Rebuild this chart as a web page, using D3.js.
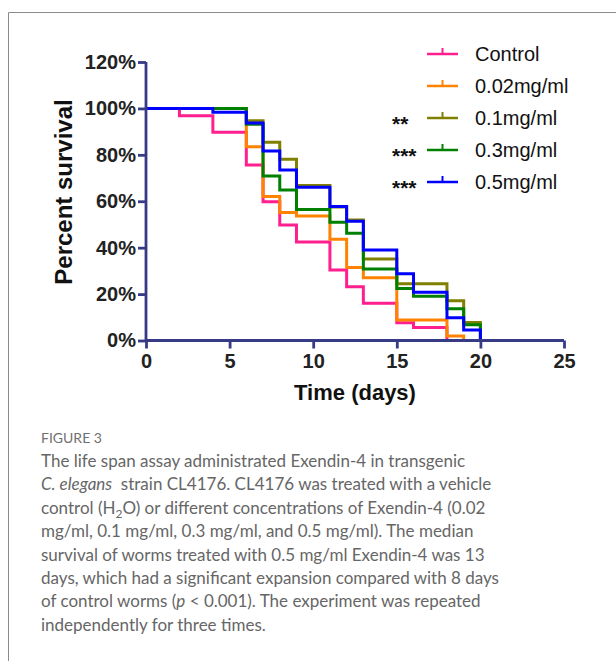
<!DOCTYPE html>
<html>
<head>
<meta charset="utf-8">
<script src="https://cdn.jsdelivr.net/npm/d3@7"></script>
<style>
  body { margin: 0; background: #fff; }
  svg { display: block; }
</style>
</head>
<body>
<script>
// event days shared by all curves, survival (%) after each drop
const days = [0, 2, 4, 6, 7, 8, 9, 11, 12, 13, 15, 16, 18, 19, 20];
const control = [100, 96.8, 89.7, 75.6, 59.8, 49.8, 42.4, 30.4, 23.2, 16.0, 7.7, 5.6, 0, null, null];
const dose002 = [100, 100, 100, 83.5, 62.0, 55.2, 53.6, 43.6, 31.5, 27.0, 8.8, 8.8, 1.9, 0, null];
const dose01 = [100, 100, 100, 94.7, 85.4, 78.1, 66.8, 57.5, 51.9, 35.1, 24.4, 24.4, 17.1, 7.8, 0];
const dose03 = [100, 100, 100, 93.2, 70.9, 64.9, 56.4, 51.0, 46.2, 30.8, 22.4, 19.1, 13.7, 6.8, 0];
const dose05 = [100, 100, 98.4, 93.7, 81.7, 73.5, 66.0, 57.7, 51.4, 39.0, 28.8, 20.8, 9.8, 4.5, 0];

const seriesNames = ["Control", "0.02mg/ml", "0.1mg/ml", "0.3mg/ml", "0.5mg/ml"];
const seriesColors = ["#ff1f8e", "#ff8300", "#808000", "#008000", "#0000ff"];
const stars = ["", "", "**", "***", "***"];
const xTicks = [0, 5, 10, 15, 20, 25];
const yTicks = [0, 20, 40, 60, 80, 100, 120];

const captionLines = [
  [{t: "The life span assay administrated Exendin-4 in transgenic"}],
  [{t: "C. elegans", i: true}, {t: "\u00a0 strain CL4176. CL4176 was treated with a vehicle"}],
  [{t: "control (H"}, {t: "2", sub: true}, {t: "O) or different concentrations of Exendin-4 (0.02"}],
  [{t: "mg/ml, 0.1 mg/ml, 0.3 mg/ml, and 0.5 mg/ml). The median"}],
  [{t: "survival of worms treated with 0.5 mg/ml Exendin-4 was 13"}],
  [{t: "days, which had a significant expansion compared with 8 days"}],
  [{t: "of control worms ("}, {t: "p", i: true}, {t: " < 0.001). The experiment was repeated"}],
  [{t: "independently for three times."}]
];

const W = 616, H = 661;
const axisColor = "#373b86";

const svg = d3.select("body").append("svg")
    .attr("width", W)
    .attr("height", H);

// frame around figure
svg.append("path")
    .attr("d", "M8.5," + H + "V12.5H" + W)
    .attr("fill", "none")
    .attr("stroke", "#8c8c8c")
    .attr("stroke-width", 1);

const x = d3.scaleLinear().domain([0, 25]).range([146, 564]);
const y = d3.scaleLinear().domain([0, 120]).range([340.5, 62]);

const series = [control, dose002, dose01, dose03, dose05].map((vals, i) => ({
    name: seriesNames[i],
    color: seriesColors[i],
    stars: stars[i],
    points: days.map((d, j) => ({day: d, v: vals[j]})).filter(p => p.v !== null)
}));

const line = d3.line()
    .x(d => x(d.day))
    .y(d => y(d.v))
    .curve(d3.curveStepAfter);

svg.append("g").selectAll("path")
    .data(series)
    .enter()
    .append("path")
    .attr("d", d => line(d.points))
    .attr("fill", "none")
    .attr("stroke", d => d.color)
    .attr("stroke-width", 3);

// axes
const xAxis = d3.axisBottom(x).tickValues(xTicks).tickSize(8).tickPadding(5);
const yAxis = d3.axisLeft(y).tickValues(yTicks).tickSize(8).tickPadding(2).tickFormat(d => d + "%");

const gx = svg.append("g")
    .attr("transform", "translate(0," + y(0) + ")")
    .call(xAxis);
const gy = svg.append("g")
    .attr("transform", "translate(" + x(0) + ",0)")
    .call(yAxis);

[gx, gy].forEach(g => {
    g.select(".domain").attr("stroke", axisColor).attr("stroke-width", 2.8);
    g.selectAll(".tick line").attr("stroke", axisColor).attr("stroke-width", 2.8);
    g.selectAll(".tick text")
        .attr("fill", "#222")
        .attr("font-family", "Liberation Sans, Arial, sans-serif")
        .attr("font-weight", "bold")
        .attr("font-size", 20);
});
gy.select(".domain").attr("d", "M0," + y(120) + "V" + (y(0) + 1));
gx.select(".domain").attr("d", "M" + x(0) + ",0H" + x(25));

svg.append("text")
    .attr("transform", "translate(72,192) rotate(-90)")
    .attr("text-anchor", "middle")
    .attr("font-family", "Liberation Sans, Arial, sans-serif")
    .attr("font-weight", "bold")
    .attr("font-size", 24)
    .attr("fill", "#111")
    .text("Percent survival");

svg.append("text")
    .attr("x", (x(0) + x(25)) / 2)
    .attr("y", 400)
    .attr("text-anchor", "middle")
    .attr("font-family", "Liberation Sans, Arial, sans-serif")
    .attr("font-weight", "bold")
    .attr("font-size", 22)
    .attr("fill", "#111")
    .text("Time (days)");

// legend
const legend = svg.append("g").selectAll("g")
    .data(series)
    .enter()
    .append("g")
    .attr("transform", (d, i) => "translate(0," + (54 + i * 32) + ")");

legend.append("line")
    .attr("x1", 427).attr("x2", 458)
    .attr("stroke", d => d.color)
    .attr("stroke-width", 2.5);
legend.append("line")
    .attr("x1", 442.5).attr("x2", 442.5)
    .attr("y1", 0).attr("y2", -6)
    .attr("stroke", d => d.color)
    .attr("stroke-width", 2);
legend.append("text")
    .attr("x", 475)
    .attr("y", 7)
    .attr("font-family", "Liberation Sans, Arial, sans-serif")
    .attr("font-size", 20)
    .attr("fill", "#111")
    .text(d => d.name);
legend.append("text")
    .attr("x", 392)
    .attr("y", 13)
    .attr("font-family", "Liberation Sans, Arial, sans-serif")
    .attr("font-weight", "bold")
    .attr("font-size", 21)
    .attr("fill", "#111")
    .text(d => d.stars);

// caption
svg.append("text")
    .attr("x", 41)
    .attr("y", 443)
    .attr("font-family", "Lato, sans-serif")
    .attr("font-size", 14)
    .attr("fill", "#707070")
    .text("FIGURE 3");

const cap = svg.append("g")
    .attr("font-family", "Lato, sans-serif")
    .attr("font-size", 17)
    .attr("fill", "#666");

captionLines.forEach((parts, i) => {
    const t = cap.append("text")
        .attr("x", 41)
        .attr("y", 467 + i * 23.4);
    parts.forEach(p => {
        const s = t.append("tspan").text(p.t);
        if (p.i) s.attr("font-style", "italic");
        if (p.sub) s.attr("font-size", 12).attr("dy", 4);
        else if (parts.some(q => q.sub) && p.t.startsWith("O)")) s.attr("dy", -4);
    });
});
</script>
</body>
</html>
